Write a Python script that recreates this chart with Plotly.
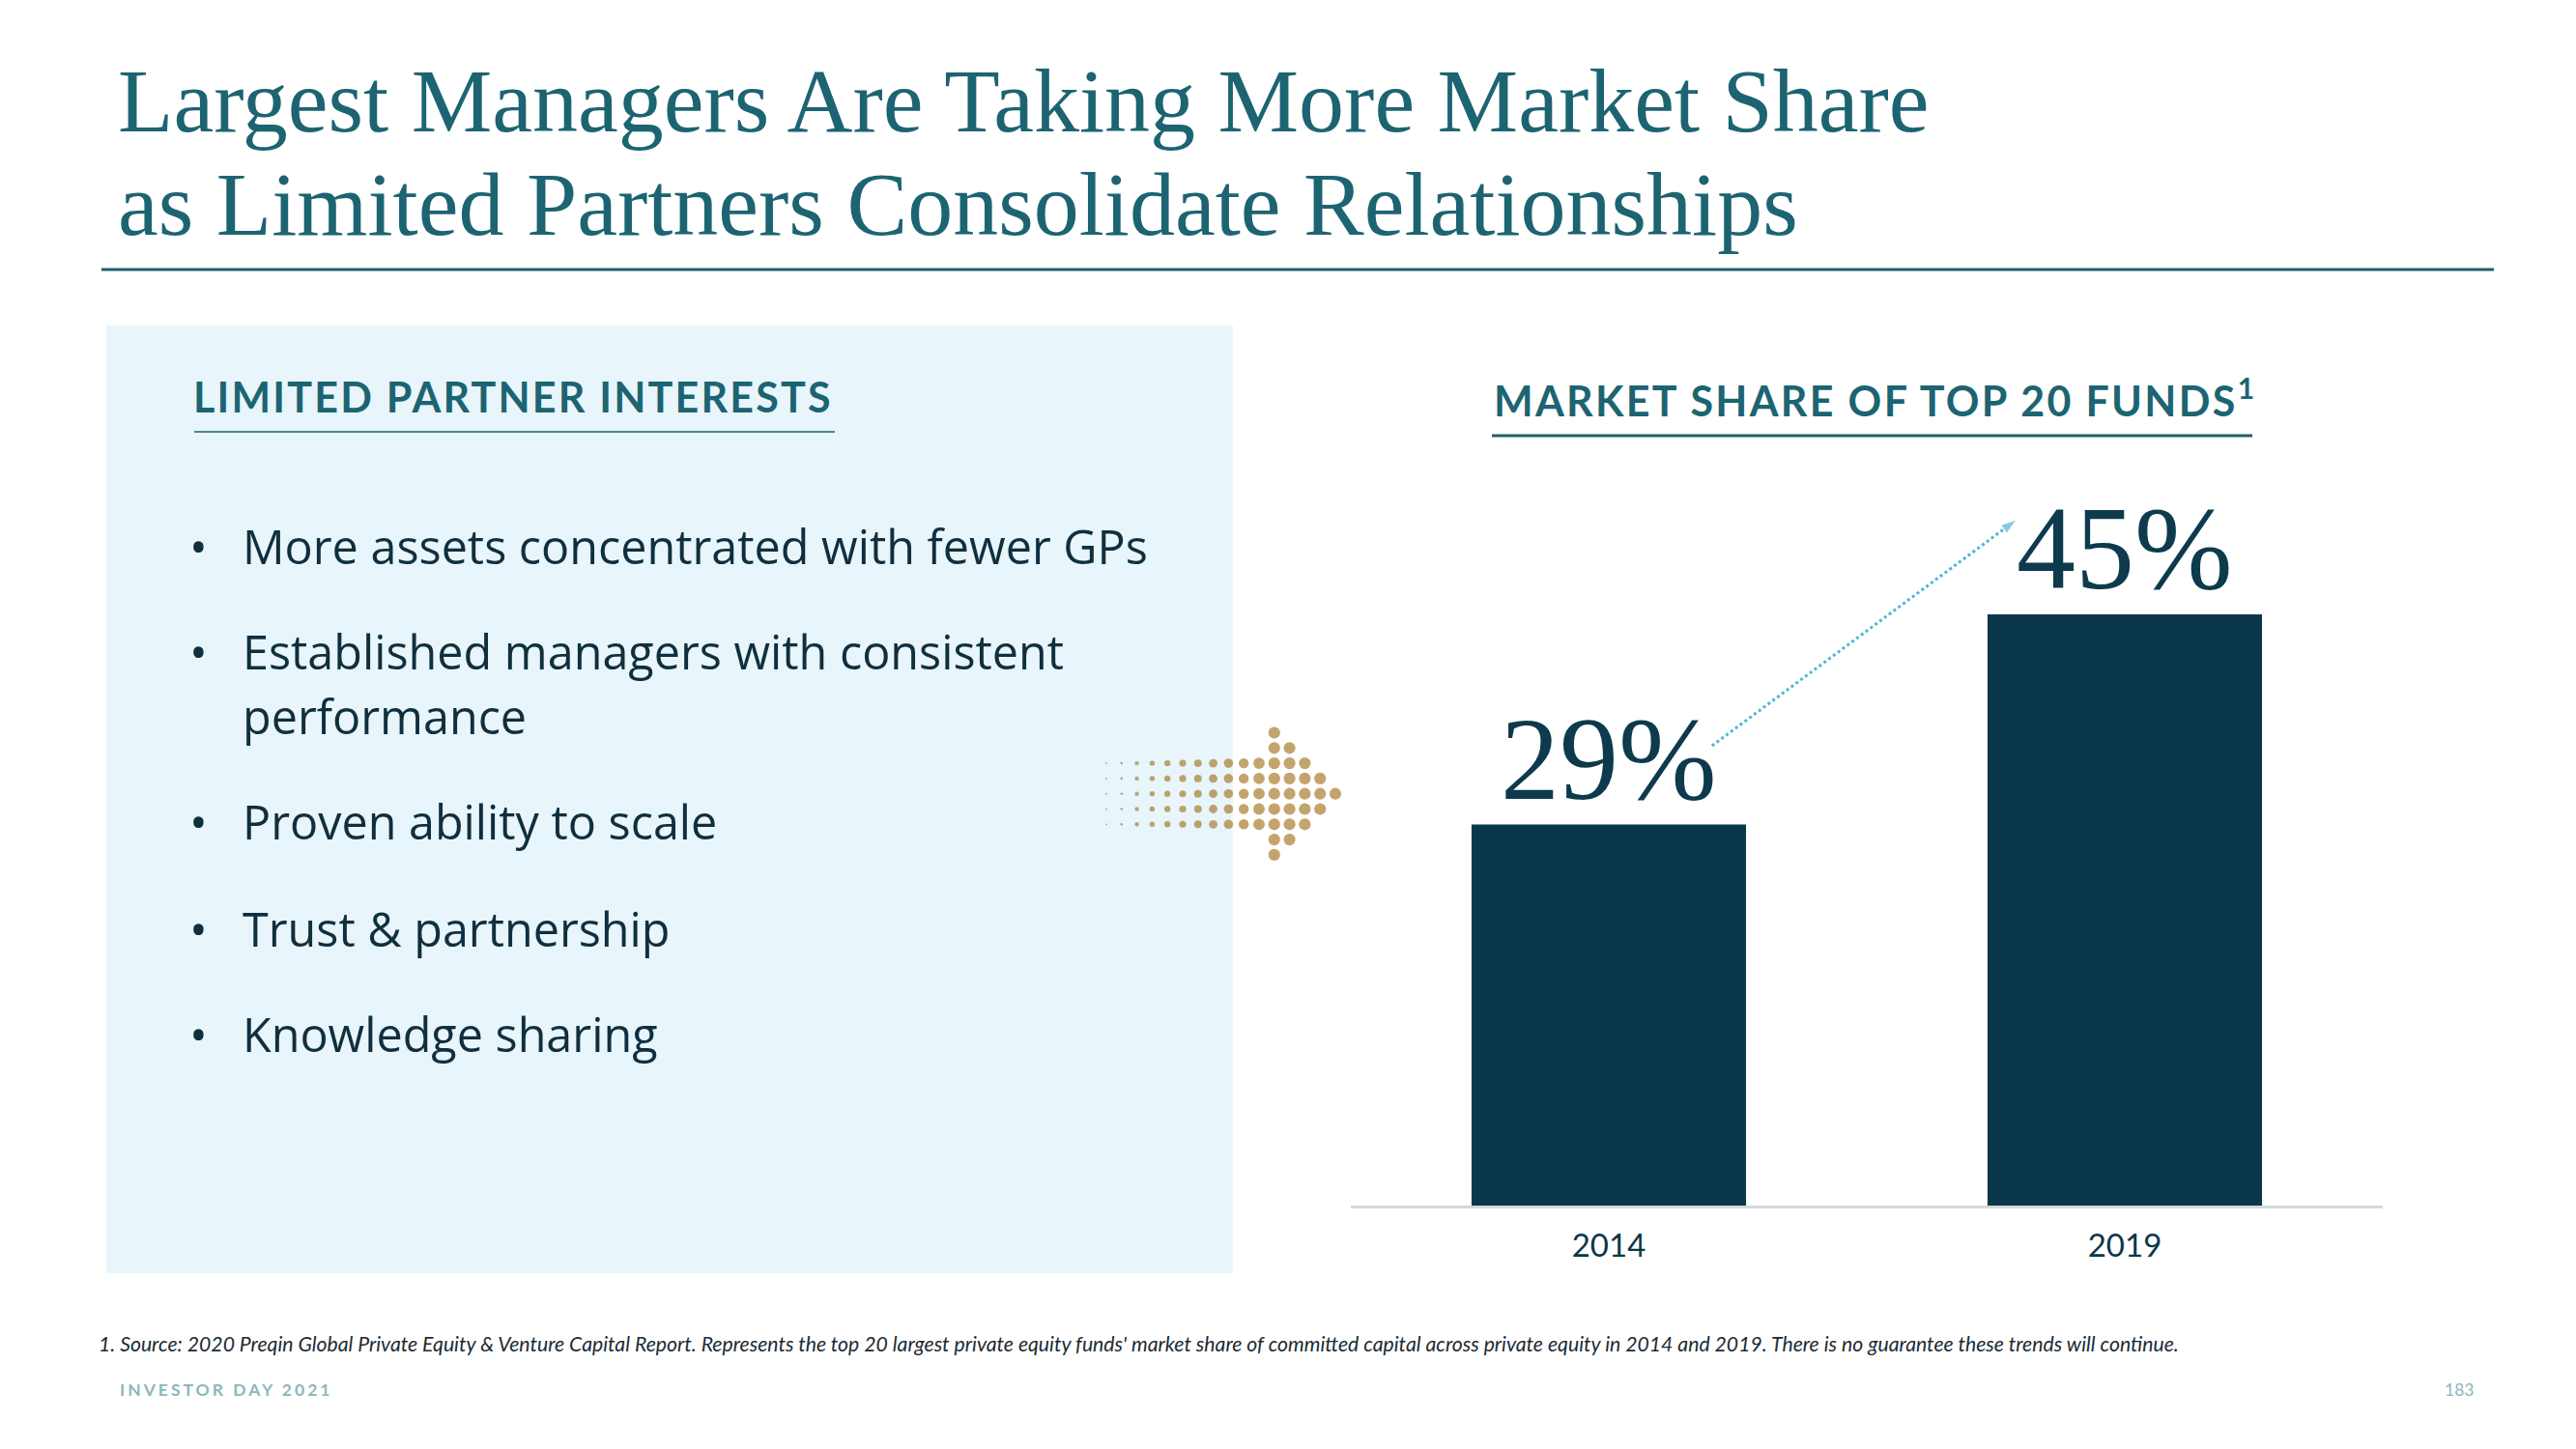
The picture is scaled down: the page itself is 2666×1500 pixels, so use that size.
import plotly.graph_objects as go

# chart data
years = ["2014", "2019"]
shares = [29, 45]
share_labels = ["29%", "45%"]

# slide text
title_lines = ["Largest Managers Are Taking More Market Share",
               "as Limited Partners Consolidate Relationships"]
left_header = "LIMITED PARTNER INTERESTS"
right_header = "MARKET SHARE OF TOP 20 FUNDS<sup>1</sup>"
bullets = [["More assets concentrated with fewer GPs"],
           ["Established managers with consistent", "performance"],
           ["Proven ability to scale"],
           ["Trust & partnership"],
           ["Knowledge sharing"]]
footnote = ("1. Source: 2020 Preqin Global Private Equity & Venture Capital Report. Represents the top 20 largest "
            "private equity funds' market share of committed capital across private equity in 2014 and 2019. "
            "There is no guarantee these trends will continue.")
footer_left = "INVESTOR DAY 2021"
footer_right = "183"

# decorative dotted arrow (grid columns per row, dot size per column)
dot_rows = {-4: [11], -3: [11, 12], -2: list(range(14)), -1: list(range(15)),
            0: list(range(16)), 1: list(range(15)), 2: list(range(14)), 3: [11, 12], 4: [11]}
dot_sizes = [1.8, 2.6, 4.4, 5.4, 6.4, 7.1, 7.9, 8.8, 9.6, 10.4, 11.8, 12.2, 12.2, 12.2, 12.2, 12.2]

# growth arrow between the two labels (data coords)
arrow_x = [0.2, 0.79]
arrow_y = [35, 52.2]

# the page body has an 8px margin, so the figure is a bit smaller and shifted
OFF = 8
W, H = 2666 - 2 * OFF, 1500 - 2 * OFF
TEAL = "#1d6472"
NAVY = "#0b374a"
TEXT = "#102f3e"
GOLD = "#a87f2f"


def PX(x):
    return (x - OFF) / W


def PY(y):
    return 1 - (y - OFF) / H


fig = go.Figure()

fig.add_trace(go.Bar(x=[0, 1], y=shares, width=0.532, marker_color=NAVY,
                     marker_line_width=0, hoverinfo="skip"))

fig.add_trace(go.Scatter(x=arrow_x, y=arrow_y, mode="lines+markers", cliponaxis=False,
                         line=dict(color="#4cb9d2", width=3, dash="dot"),
                         marker=dict(symbol="arrow", angleref="previous", size=[0, 17],
                                     color="#4cb9d2"),
                         hoverinfo="skip"))

# dot arrow in a pixel-space overlay
dx, dy, ds, dc = [], [], [], []
for r, cols in dot_rows.items():
    for c in cols:
        dx.append(1145 + c * 15.8 - OFF)
        dy.append(821.7 + r * 15.8 - OFF)
        ds.append(dot_sizes[c])
        dc.append("#8f8660" if c < 3 else GOLD)
fig.add_trace(go.Scatter(x=dx, y=dy, mode="markers", xaxis="x2", yaxis="y2",
                         marker=dict(size=ds, color=dc, line_width=0), hoverinfo="skip"))

px0, px1 = 1398, 2466
py0 = 1248
scale = 13.6
ytop = 60
fig.update_layout(
    width=W, height=H, margin=dict(l=0, r=0, t=0, b=0),
    paper_bgcolor="white", plot_bgcolor="rgba(0,0,0,0)", showlegend=False,
    xaxis=dict(domain=[PX(px0), PX(px1)], range=[-0.5, 1.5], tickvals=[0, 1], ticktext=years,
               showgrid=False, zeroline=False, showline=True, linecolor="#d3d9dc", linewidth=3,
               ticks="outside", ticklen=10, tickcolor="rgba(0,0,0,0)",
               tickfont=dict(family="Lato", size=33, color=NAVY), fixedrange=True),
    yaxis=dict(domain=[PY(py0), PY(py0 - ytop * scale)], range=[0, ytop],
               visible=False, fixedrange=True),
    xaxis2=dict(domain=[0, 1], range=[0, W], visible=False, anchor="y2"),
    yaxis2=dict(domain=[0, 1], range=[H, 0], visible=False, anchor="x2"),
)

# value labels
for i, lab in enumerate(share_labels):
    fig.add_annotation(x=i, y=shares[i], text=lab, showarrow=False, yanchor="bottom",
                       xanchor="center", yshift=-1,
                       font=dict(family="Liberation Serif", size=122, color="#0d3a4c"))

shapes = []
# light blue panel
shapes.append(dict(type="rect", xref="paper", yref="paper", x0=PX(110), x1=PX(1276),
                   y0=PY(1318), y1=PY(337), fillcolor="#e8f5fb", line_width=0, layer="below"))
# title rule
shapes.append(dict(type="line", xref="paper", yref="paper", x0=PX(105), x1=PX(2581),
                   y0=PY(279), y1=PY(279), line=dict(color="#1d5e6c", width=3)))
# header rules
shapes.append(dict(type="line", xref="paper", yref="paper", x0=PX(201), x1=PX(864),
                   y0=PY(447), y1=PY(447), line=dict(color="#1d5e6c", width=1.5)))
shapes.append(dict(type="line", xref="paper", yref="paper", x0=PX(1544), x1=PX(2331),
                   y0=PY(451), y1=PY(451), line=dict(color="#1d5e6c", width=3)))
fig.update_layout(shapes=shapes)


def txt(x, y, s, size, color, family="Lato", xanchor="left"):
    fig.add_annotation(xref="paper", yref="paper", x=PX(x), y=PY(y), text=s, showarrow=False,
                       xanchor=xanchor, yanchor="middle", align=xanchor,
                       font=dict(family=family, size=size, color=color))


# title
txt(120, 104, title_lines[0], 94, TEAL, family="Liberation Serif")
txt(120, 211, title_lines[1], 94, TEAL, family="Liberation Serif")

# section headers
txt(198, 410, '<b><span style="letter-spacing:2.2px">' + left_header + '</span></b>', 43, TEAL)
txt(1544, 412, '<b><span style="letter-spacing:2.3px">' + right_header + '</span></b>', 43, TEAL)

# bullets
bullet_y = [565, 674, 850, 961, 1070]
line_gap = 67
for b, y in zip(bullets, bullet_y):
    txt(194, y, "\u2022", 50, TEXT, family="Open Sans")
    for k, line in enumerate(b):
        txt(249, y + k * line_gap, line, 48.5, TEXT, family="Open Sans")

# footnote and footer
txt(100, 1391, "<i>" + footnote + "</i>", 21.2, "#1b2b35")
txt(122, 1438, '<b><span style="letter-spacing:3px">' + footer_left + '</span></b>', 17.5, "#8db7bc")
txt(2562, 1438, footer_right, 17.5, "#8db7bc", xanchor="right")

fig.write_html("out.html")
